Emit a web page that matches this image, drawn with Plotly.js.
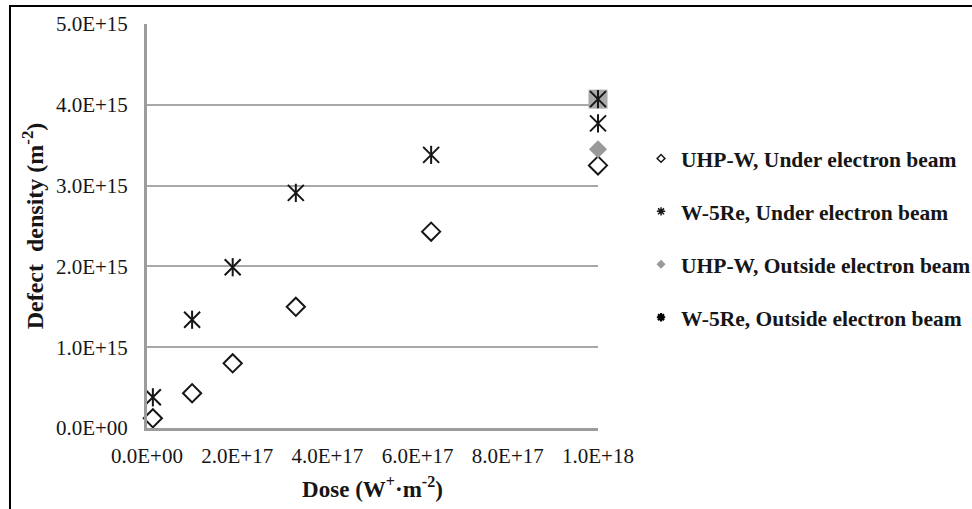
<!DOCTYPE html>
<html>
<head>
<meta charset="utf-8">
<script src="https://cdn.plot.ly/plotly-3.0.1.min.js"></script>
<style>html,body{margin:0;padding:0;background:#fff;}#chart{width:972px;height:509px;}</style>
</head>
<body>
<div id="chart"></div>
<script>
// Data
const seriesNames = ["UHP-W, Under electron beam", "W-5Re, Under electron beam", "UHP-W, Outside electron beam", "W-5Re, Outside electron beam"];
const dose = [1.3e16, 1.0e17, 1.9e17, 3.3e17, 6.3e17, 1.0e18];
const uhpUnder = [0.12e15, 0.43e15, 0.80e15, 1.50e15, 2.43e15, 3.25e15];
const w5reUnder = [0.38e15, 1.34e15, 1.99e15, 2.91e15, 3.38e15, 3.77e15];
const doseOutside = [1.0e18];
const uhpOutside = [3.45e15];
const w5reOutside = [4.07e15];

const xTickVals = [0, 2e17, 4e17, 6e17, 8e17, 1e18];
const xTickText = ["0.0E+00", "2.0E+17", "4.0E+17", "6.0E+17", "8.0E+17", "1.0E+18"];
const yTickVals = [0, 1e15, 2e15, 3e15, 4e15, 5e15];
const yTickText = ["0.0E+00", "1.0E+15", "2.0E+15", "3.0E+15", "4.0E+15", "5.0E+15"];

const INK = '#161616';
const SERIF = '"Liberation Serif", "Times New Roman", serif';

const common = {type: 'scatter', mode: 'markers', showlegend: false, cliponaxis: false, hoverinfo: 'x+y'};

const traces = [
  // W-5Re outside: grey square backdrop
  Object.assign({}, common, {x: doseOutside, y: w5reOutside, marker: {symbol: 'square', size: 19, color: '#a9a9a9', line: {width: 0}}}),
  // UHP-W under
  Object.assign({}, common, {x: dose, y: uhpUnder, marker: {symbol: 'diamond-open', size: 14, color: INK, line: {width: 2, color: INK}}}),
  // W-5Re under (diagonals + vertical)
  Object.assign({}, common, {x: dose, y: w5reUnder, marker: {symbol: 'x-thin-open', size: 16, color: INK, line: {width: 2, color: INK}}}),
  Object.assign({}, common, {x: dose, y: w5reUnder, marker: {symbol: 'line-ns-open', size: 13, color: INK, line: {width: 2, color: INK}}}),
  // UHP-W outside
  Object.assign({}, common, {x: doseOutside, y: uhpOutside, marker: {symbol: 'diamond', size: 14, color: '#9a9a9a', line: {width: 0}}}),
  // W-5Re outside asterisk
  Object.assign({}, common, {x: doseOutside, y: w5reOutside, marker: {symbol: 'x-thin-open', size: 16, color: INK, line: {width: 2, color: INK}}}),
  Object.assign({}, common, {x: doseOutside, y: w5reOutside, marker: {symbol: 'line-ns-open', size: 13, color: INK, line: {width: 2, color: INK}}}),
  // legend entries (no data drawn)
  {type: 'scatter', mode: 'markers', x: [null], y: [null], name: seriesNames[0], legendgroup: 'a', legendrank: 1,
   marker: {symbol: 'diamond-open', size: 6, color: INK, line: {width: 1.5, color: INK}}},
  {type: 'scatter', mode: 'markers', x: [null], y: [null], name: seriesNames[1], legendgroup: 'b', legendrank: 2,
   marker: {symbol: 'asterisk-open', size: 7, color: INK, line: {width: 1.5, color: INK}}},
  {type: 'scatter', mode: 'markers', x: [null], y: [null], name: seriesNames[2], legendgroup: 'c', legendrank: 3,
   marker: {symbol: 'diamond', size: 7, color: '#9a9a9a', line: {width: 0}}},
  {type: 'scatter', mode: 'markers', x: [null], y: [null], name: seriesNames[3], legendgroup: 'd', legendrank: 4,
   marker: {symbol: 'asterisk-open', size: 7, color: '#000', line: {width: 2.2, color: '#000'}}}
];

const layout = {
  width: 972, height: 509,
  margin: {l: 147, r: 374, t: 24, b: 81},
  paper_bgcolor: '#fff', plot_bgcolor: '#fff',
  font: {family: SERIF, color: INK, size: 21},
  showlegend: true,
  legend: {
    xref: 'container', yref: 'container',
    x: 0.6595, y: 0.729, xanchor: 'left', yanchor: 'top',
    traceorder: 'grouped', tracegroupgap: 22,
    font: {family: SERIF, size: 21.5, color: INK, weight: 'bold'},
    bgcolor: 'rgba(0,0,0,0)', itemclick: false
  },
  xaxis: {
    range: [0, 1e18], tickmode: 'array', tickvals: xTickVals, ticktext: xTickText,
    showgrid: false, zeroline: false, showline: true, linecolor: '#9c9c9c', linewidth: 3,
    ticks: '', ticklabelstandoff: 7,
    tickfont: {family: SERIF, size: 21, color: INK},
    title: {text: 'Dose (W<sup>+</sup>·m<sup>-2</sup>)', font: {family: SERIF, size: 23, color: INK, weight: 'bold'}, standoff: 14}
  },
  yaxis: {
    range: [0, 5e15], tickmode: 'array', tickvals: yTickVals, ticktext: yTickText,
    showgrid: true, gridcolor: '#a8a8a8', gridwidth: 2,
    zeroline: false, showline: true, linecolor: '#9c9c9c', linewidth: 3,
    ticks: '', ticklabelstandoff: 12,
    tickfont: {family: SERIF, size: 21, color: INK},
    title: {text: 'Defect\u00a0 density (m<sup>-2</sup>)', font: {family: SERIF, size: 24, color: INK, weight: 'bold'}, standoff: 6}
  },
  shapes: [
    {type: 'rect', xref: 'paper', yref: 'paper', x0: -0.3038, x1: 1.86, y0: -0.25, y1: 1.0446,
     line: {color: '#000', width: 2}, fillcolor: 'rgba(0,0,0,0)', layer: 'above'}
  ]
};

Plotly.newPlot('chart', traces, layout, {displayModeBar: false, staticPlot: true});
</script>
</body>
</html>
